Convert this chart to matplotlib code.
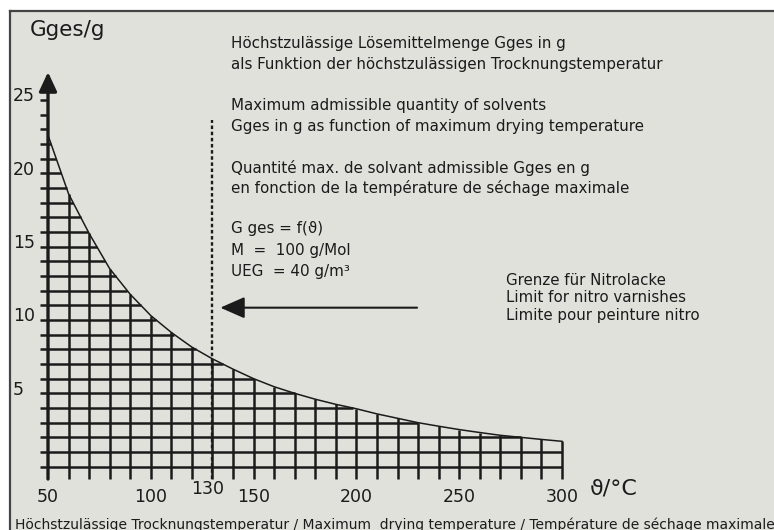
import numpy as np
import matplotlib.pyplot as plt
from matplotlib.patches import Rectangle
from matplotlib.lines import Line2D

# drying temperature (°C) and max. admissible solvent quantity Gges (g)
temp = [50, 60, 70, 80, 90, 100, 110, 120, 130, 140, 150, 160, 170,
        180, 190, 200, 210, 220, 230, 240, 250, 260, 270, 280, 290, 300]
gges = [22.6, 18.6, 15.9, 13.5, 11.75, 10.3, 9.15, 8.15, 7.35, 6.65, 6.0, 5.45, 5.0,
        4.6, 4.25, 3.95, 3.6, 3.3, 3.0, 2.76, 2.53, 2.33, 2.14, 2.0, 1.86, 1.73]

x_ticks = [50, 100, 150, 200, 250, 300]
y_ticks = [5, 10, 15, 20, 25]
g_levels = list(range(0, 26))
nitro_limit = 130

W, H = 774, 530
bg = "#e1e1dc"
ink = "#1b1b1b"

fig = plt.figure(figsize=(W / 100, H / 100), dpi=100)
fig.patch.set_facecolor("white")

# gray panel with border on top and left
fig.patches.append(Rectangle((10 / W, 0), 1, (H - 10.5) / H, transform=fig.transFigure,
                             facecolor=bg, edgecolor="none", zorder=-2))
fig.lines.append(Line2D([10 / W, 1], [1 - 10.5 / H, 1 - 10.5 / H], transform=fig.transFigure,
                        color="#444444", lw=1.6, zorder=-1))
fig.lines.append(Line2D([10 / W, 10 / W], [0, 1 - 10.5 / H], transform=fig.transFigure,
                        color="#444444", lw=1.6, zorder=-1))

ax = fig.add_axes([0, 0, 1, 1])
ax.set_facecolor("none")
# pixel mapping: x=50 -> 48px, 2.056 px per °C ; G=0 -> 466.7px from top, 14.67 px per g
ax.set_xlim(50 - 48 / 2.056, 50 + (W - 48) / 2.056)
ax.set_ylim((466.7 - H) / 14.67, 466.7 / 14.67)
ax.axis("off")

t = np.array(temp, dtype=float)
g = np.array(gges, dtype=float)
y_bot = -0.84
x_left = 46.1

# horizontal grid lines, ending at the curve
for v in g_levels:
    x_end = np.interp(v, g[::-1], t[::-1], left=t[-1], right=t[0])
    x_end = max(x_end, t[0])
    ax.plot([x_left, x_end], [v, v], color=ink, lw=1.8, solid_capstyle="butt")

# vertical grid lines, ending at the curve
for ti, gi in zip(temp[1:], gges[1:]):
    ax.plot([ti, ti], [y_bot, gi], color=ink, lw=1.8, solid_capstyle="butt")

# curve
ax.plot(t, g, color=ink, lw=1.1)

# y axis with arrow
ax.annotate("", xy=(temp[0], 26.9), xytext=(temp[0], y_bot),
            arrowprops=dict(arrowstyle="-|>,head_length=0.58,head_width=0.27",
                            mutation_scale=20, lw=2.4, color=ink,
                            shrinkA=0, shrinkB=0))

# limit for nitro varnishes
ax.plot([nitro_limit, nitro_limit], [y_bot, 23.6], color=ink, lw=1.7,
        linestyle=(0, (1.5, 1.1)))
ax.annotate("", xy=(133.8, 10.84), xytext=(229.5, 10.84),
            arrowprops=dict(arrowstyle="-|>,head_length=0.75,head_width=0.33",
                            mutation_scale=20, lw=1.5, color=ink,
                            shrinkA=0, shrinkB=0))

# tick labels
for v in y_ticks:
    ax.text(33.0, v - 0.1, str(v), fontsize=12.5, color=ink, ha="left", va="baseline")
for v in x_ticks:
    ax.text(v, -2.39, str(v), fontsize=12.5, color=ink, ha="center", va="baseline")
ax.text(nitro_limit - 2.2, -1.86, str(nitro_limit), fontsize=12.5, color=ink,
        ha="center", va="baseline")


def label(px, py, s, size, **kw):
    fig.text(px / W, 1 - py / H, s, fontsize=size, color=ink, ha="left", va="baseline", **kw)


label(30, 36, "Gges/g", 15.5)
label(590, 495, "ϑ/°C", 16)

label(231, 48, "Höchstzulässige Lösemittelmenge Gges in g", 10.9)
label(231, 68.5, "als Funktion der höchstzulässigen Trocknungstemperatur", 10.9)
label(231, 110, "Maximum admissible quantity of solvents", 10.9)
label(231, 130.7, "Gges in g as function of maximum drying temperature", 10.9)
label(231, 173, "Quantité max. de solvant admissible Gges en g", 10.9)
label(231, 193.5, "en fonction de la température de séchage maximale", 10.9)

label(231, 233.3, "G ges = f(ϑ)", 10.9)
label(231, 255, "M  =  100 g/Mol", 10.9)
label(231, 276, "UEG  = 40 g/m³", 10.9)

label(506, 285, "Grenze für Nitrolacke", 10.8)
label(506, 302, "Limit for nitro varnishes", 10.8)
label(506, 320, "Limite pour peinture nitro", 10.8)

label(15, 528.5, "Höchstzulässige Trocknungstemperatur / Maximum  drying temperature / "
      "Température de séchage maximale", 10)

fig.savefig("out.png", dpi=100, facecolor=fig.get_facecolor())
